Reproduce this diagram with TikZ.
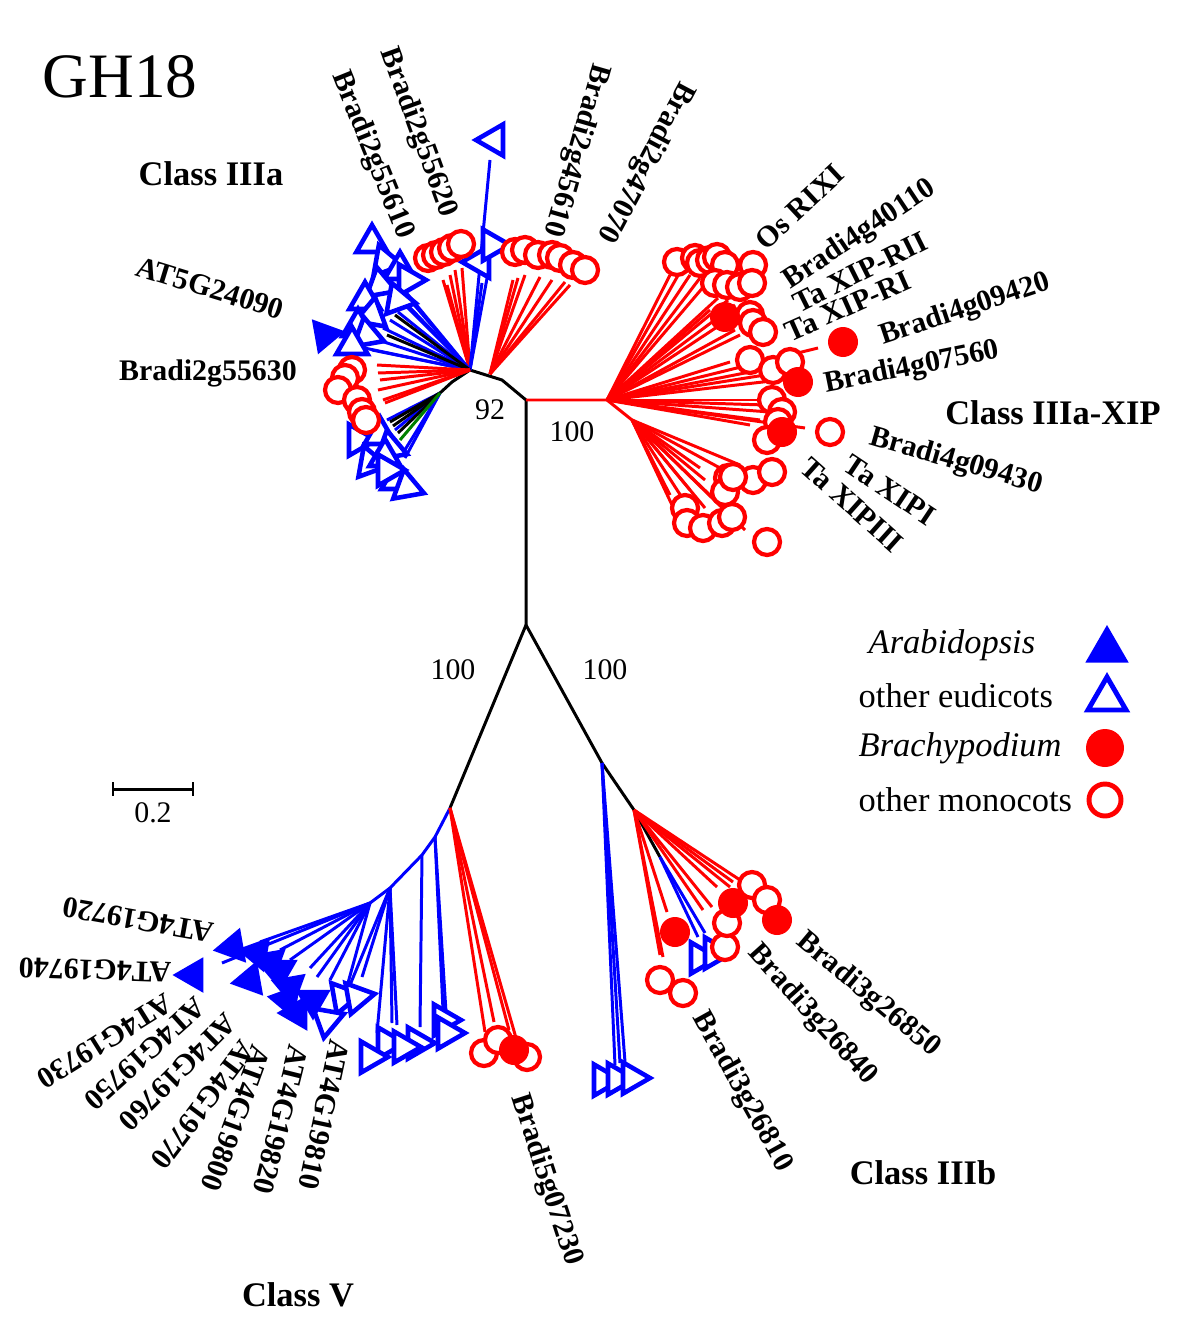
\documentclass[tikz,border=0pt]{standalone}
\usepackage{fontspec}
\setmainfont{Liberation Serif}
\usetikzlibrary{shapes.geometric}

\tikzset{
  branch/.style={line width=0.85pt},
  lab/.style={font=\bfseries\fontsize{8.5}{10}\selectfont, inner sep=0pt},
  clab/.style={font=\bfseries\fontsize{9.8}{12}\selectfont, inner sep=0pt},
  boot/.style={font=\fontsize{8.5}{10}\selectfont, inner sep=0pt},
  legt/.style={font=\fontsize{9.8}{12}\selectfont, inner sep=0pt, anchor=west},
  oc/.style={circle, draw=red, fill=white, line width=1.2pt, minimum size=2.6mm, inner sep=0pt},
  fc/.style={circle, fill=red, minimum size=3.0mm, inner sep=0pt},
  ot/.style={regular polygon, regular polygon sides=3, draw=blue, fill=white, line width=1.3pt, minimum size=3.6mm, inner sep=0pt},
  ft/.style={regular polygon, regular polygon sides=3, fill=blue, minimum size=4.1mm, inner sep=0pt},
}

% branches from one node to a list of end points
\newcommand\fan[3]{\foreach \ex/\ey in {#3}{\draw[branch,#2] (#1) -- (\ex,\ey);}}
% leaf markers: circles (x/y) and triangles (x/y/rotation)
\newcommand\rings[2]{\foreach \mx/\my in {#2}{\node[#1] at (\mx,\my) {};}}
\newcommand\tris[2]{\foreach \mx/\my/\mr in {#2}{\node[#1, rotate=\mr] at (\mx,\my) {};}}

\begin{document}
\begin{tikzpicture}[x=0.1mm, y=-0.1mm]
\useasboundingbox (0,0) rectangle (1200,1344);

% inner nodes
\coordinate (top) at (526,400);
\coordinate (root) at (526,625);
\coordinate (hubA) at (502,380);
\coordinate (hub) at (470,370);
\coordinate (hubL) at (440,393);
\coordinate (hubR) at (490,374);
\coordinate (xip) at (607,400);
\coordinate (xipL) at (632,420);
\coordinate (cv) at (450,808);
\coordinate (cv1) at (435,837);
\coordinate (cv2) at (422,855);
\coordinate (cv3) at (390,888);
\coordinate (cv4) at (370,903);
\coordinate (cb0) at (602,763);
\coordinate (cb1) at (634,810);
\coordinate (cb2) at (660,857);

% backbone
\draw[branch] (root) -- (top) -- (hubA) -- (hub) -- (452,382) -- (hubL);
\draw[branch, red] (top) -- (xip) -- (xipL);
\draw[branch] (root) -- (cv);
\draw[branch] (root) -- (cb0) -- (cb1) -- (cb2);
\draw[branch, blue] (cv) -- (cv1) -- (cv2) -- (cv3) -- (cv4);

% Class IIIa
\fan{hub}{red}{443/280, 450/275, 455/270, 462/268, 447/285}
\fan{hub}{blue}{482/283, 488/273, 490/160}
\fan{hubR}{red}{513/280, 518/278, 525/275, 540/277, 552/280, 565/282, 570/285}
\fan{hub}{blue}{410/300, 405/305, 398/312, 390/320, 383/328, 378/340, 372/350, 395/292, 400/285, 350/345}
\fan{hub}{black}{395/315, 387/335}
\fan{hub}{red}{377/365, 378/373, 380/380, 378/390, 383/400, 385/403}
\fan{hubL}{blue}{387/420, 395/430, 403/453, 405/458}
\fan{hubL}{black}{390/422, 393/426, 398/433}
\fan{hubL}{green!50!black}{400/440}

% Class IIIa-XIP
\fan{xip}{red}{670/275, 680/272, 690/275, 700/278, 705/285, 718/298, 728/300, 735/305, 710/310, 720/325, 735/330, 740/335}
\fan{xip}{red}{730/362, 750/372, 765/375, 780/380, 760/400, 765/405, 770/412, 760/420, 750/425, 818/348, 805/428}
\fan{xipL}{red}{700/468, 720/468, 740/465, 705/480, 690/490, 670/495, 672/505, 690/510, 705/508, 715/500, 745/530}

% Class V
\fan{cv}{red}{485/1032, 494/1022, 509/1030, 516/1038}
\fan{cv1}{blue}{443/1010, 446/1012}
\fan{cv2}{blue}{420/1027}
\fan{cv3}{blue}{392/1023, 397/1025, 377/1033, 362/977, 350/985}
\fan{cv4}{blue}{260/942, 280/950, 290/960, 310/968, 317/977, 330/980, 348/983, 222/963}

% Class IIIb
\fan{cb0}{blue}{615/1065, 620/1063, 625/1062}
\fan{cb2}{blue}{698/937, 705/933}
\fan{cb1}{red}{667/912, 660/955, 663/957, 703/910, 712/907, 717/887, 730/887, 733/882, 740/880}

% leaf markers
\tris{ot}{372/243/0, 385/262/20, 400/270/0, 408/280/30, 380/285/10, 365/300/0, 372/315/-10, 398/300/20, 358/327/0, 367/335/10, 352/345/0,
  480/262/90, 492/245/30, 494/140/90,
  358/440/30, 380/435/0, 390/448/10, 370/463/20, 385/457/0, 397/480/0, 407/487/10, 387/470/30}
\tris{ft}{325/335/40}
\rings{oc}{428/258, 436/255, 444/252, 452/248, 461/244,
  515/252, 525/250, 538/255, 552/255, 560/258, 573/265, 585/270,
  352/370, 345/378, 338/390, 357/400, 362/412, 366/420}

\rings{oc}{677/262, 695/258, 700/263, 710/260, 717/257, 725/265, 753/265, 715/283, 727/285, 740/287, 752/283, 750/315, 753/323, 763/332,
  750/360, 773/370, 790/362, 772/400, 782/412, 778/422, 767/440,
  728/478, 753/480, 772/472, 725/492, 733/477, 685/508, 687/523, 703/528, 722/523, 732/517, 767/542, 830/432}
\rings{fc}{725/317, 798/382, 782/432, 843/342}

\tris{ot}{443/1020/-90, 447/1033/-90, 417/1043/-90, 387/1043/-90, 403/1047/-90, 370/1057/-90, 343/997/-80, 357/997/-80, 327/1020/-70}
\tris{ft}{233/947/100, 257/953/80, 193/975/90, 250/980/100, 280/970/60, 270/962/70, 290/987/70, 287/1000/80, 297/1013/90, 313/1000/60}
\rings{oc}{484/1053, 498/1040, 527/1057}
\rings{fc}{514/1050}

\tris{ot}{603/1080/-90, 617/1079/-90, 632/1078/-90, 700/958/150, 714/953/150}
\rings{oc}{660/980, 683/993, 725/947, 727/923, 752/885, 767/900}
\rings{fc}{675/932, 733/903, 777/920}

% labels
\node[font=\fontsize{18}{20}\selectfont, inner sep=0pt] (title) at (120,77) {GH18};
\node[clab] (c3a) at (211,174) {Class IIIa};
\node[clab] (c3x) at (1053,413) {Class IIIa-XIP};
\node[clab] (c3b) at (923,1173) {Class IIIb};
\node[clab] (c5) at (298,1295) {Class V};

\node[lab, rotate=-68] (g55610) at (372,155) {Bradi2g55610};
\node[lab, rotate=-70] (g55620) at (418,133) {Bradi2g55620};
\node[lab, rotate=-106] (g45610) at (576,150) {Bradi2g45610};
\node[lab, rotate=-118] (g47070) at (645,162) {Bradi2g47070};
\node[lab, rotate=-17] (g24090) at (210,288) {AT5G24090};
\node[lab] (g55630) at (208,373) {Bradi2g55630};

\node[lab, rotate=43] (grixi) at (800,207) {Os RIXI};
\node[lab, rotate=33.7] (g40110) at (860,235) {Bradi4g40110};
\node[lab, rotate=26.5] (grii) at (860,272) {Ta XIP-RII};
\node[lab, rotate=24] (gri) at (848,306) {Ta XIP-RI};
\node[lab, rotate=18.5] (g09420) at (965,310) {Bradi4g09420};
\node[lab, rotate=11.4] (g07560) at (912,368) {Bradi4g07560};
\node[lab, rotate=-16] (g09430) at (956,462) {Bradi4g09430};
\node[lab, rotate=-33.7] (gxipi) at (890,490) {Ta XIPI};
\node[lab, rotate=-41.8] (gxipiii) at (852,505) {Ta XIPIII};

\node[lab, rotate=170] (g19720) at (138,920) {AT4G19720};
\node[lab, rotate=178] (g19740) at (95,970) {AT4G19740};
\node[lab, rotate=-148] (g19730) at (105,1041) {AT4G19730};
\node[lab, rotate=-138] (g19750) at (145,1054) {AT4G19750};
\node[lab, rotate=-135] (g19760) at (178,1072) {AT4G19760};
\node[lab, rotate=-127] (g19770) at (203,1105) {AT4G19770};
\node[lab, rotate=-110] (g19800) at (236,1118) {AT4G19800};
\node[lab, rotate=-104] (g19820) at (281,1120) {AT4G19820};
\node[lab, rotate=-102] (g19810) at (324,1115) {AT4G19810};
\node[lab, rotate=-72] (g07230) at (546,1180) {Bradi5g07230};

\node[lab, rotate=-61] (g26810) at (742,1092) {Bradi3g26810};
\node[lab, rotate=-48] (g26840) at (812,1015) {Bradi3g26840};
\node[lab, rotate=-40] (g26850) at (868,995) {Bradi3g26850};

% bootstrap values
\node[boot] (b92) at (490,410) {92};
\node[boot] (bxip) at (572,432) {100};
\node[boot] (bv) at (453,670) {100};
\node[boot] (bb) at (605,670) {100};

% scale bar
\coordinate (sbL) at (113,789);
\coordinate (sbR) at (193,789);
\draw[branch] (sbL) -- (sbR);
\draw[branch] (sbL) ++(0,-7) -- ++(0,14);
\draw[branch] (sbR) ++(0,-7) -- ++(0,14);
\node[boot] (sbT) at (153,813) {0.2};

% legend
\node[legt, font=\itshape\fontsize{9.8}{12}\selectfont] (lgA) at (868,645) {Arabidopsis};
\node[legt] (lgB) at (858,696) {other eudicots};
\node[legt, font=\itshape\fontsize{9.8}{12}\selectfont] (lgC) at (858,748) {Brachypodium};
\node[legt] (lgD) at (858,800) {other monocots};
\node[ft, minimum size=5mm] (mkA) at (1107,650) {};
\node[ot, minimum size=4.4mm, line width=1.4pt] (mkB) at (1107,699) {};
\node[fc, minimum size=3.8mm] (mkC) at (1105,748) {};
\node[oc, minimum size=3.2mm, line width=1.4pt] (mkD) at (1105,800) {};
\end{tikzpicture}
\end{document}
